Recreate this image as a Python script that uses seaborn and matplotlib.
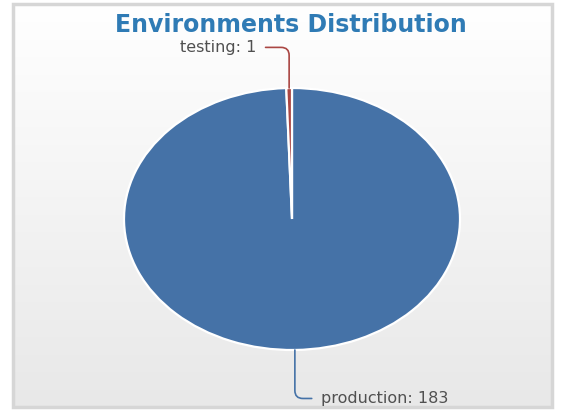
import numpy as np
import seaborn as sns
import matplotlib.pyplot as plt
from matplotlib.patches import Rectangle

# data
envs = ['production', 'testing']
counts = [183, 1]
colors = ['#4572A7', '#AA4643']
title = 'Environments Distribution'

sns.set_theme(style='white')
plt.rcParams['font.family'] = ['DejaVu Sans']

fig = plt.figure(figsize=(5.63, 4.16), dpi=100)

# panel background: light gradient with grey border
bg = fig.add_axes([13 / 563, 9 / 416, 539 / 563, 403 / 416])
grad = np.linspace(1.0, 0.91, 256).reshape(-1, 1)
bg.imshow(np.dstack([grad, grad, grad]), aspect='auto', extent=(0, 1, 0, 1),
          origin='upper', interpolation='bicubic')
bg.add_patch(Rectangle((0, 0), 1, 1, transform=bg.transAxes, fill=False,
                       edgecolor='#d6d6d6', linewidth=2.5, clip_on=False))
bg.set_xlim(0, 1)
bg.set_ylim(0, 1)
bg.axis('off')

fig.text(291 / 563, 1 - 25 / 416, title, ha='center', va='center',
         fontsize=17, fontweight='bold', color='#2f7bb5')

# pie axes stretched to an ellipse
ax = fig.add_axes([124 / 563, 66 / 416, 336 / 563, 262 / 416])
wedges, _ = ax.pie(counts, colors=colors, startangle=90, counterclock=False,
                   wedgeprops=dict(edgecolor='white', linewidth=1.6))
ax.set_aspect('auto')
ax.set_xlim(-1, 1)
ax.set_ylim(-1, 1)
ax.axis('off')

for w, name, n, c in zip(wedges, envs, counts, colors):
    mid = np.deg2rad((w.theta1 + w.theta2) / 2)
    x, y = np.cos(mid), np.sin(mid)
    if y > 0:
        txt_xy = (-0.21, 1.31)
        ha = 'right'
    else:
        txt_xy = (0.17, -1.37)
        ha = 'left'
    ax.annotate(f'{name}: {n}', xy=(x, y), xytext=txt_xy, ha=ha, va='center',
                fontsize=11.5, color='#505050', annotation_clip=False,
                arrowprops=dict(arrowstyle='-', color=c, lw=1.2, shrinkA=4, shrinkB=0,
                                connectionstyle='angle,angleA=0,angleB=90,rad=8'))

fig.savefig('out.png', dpi=100, facecolor='white')
